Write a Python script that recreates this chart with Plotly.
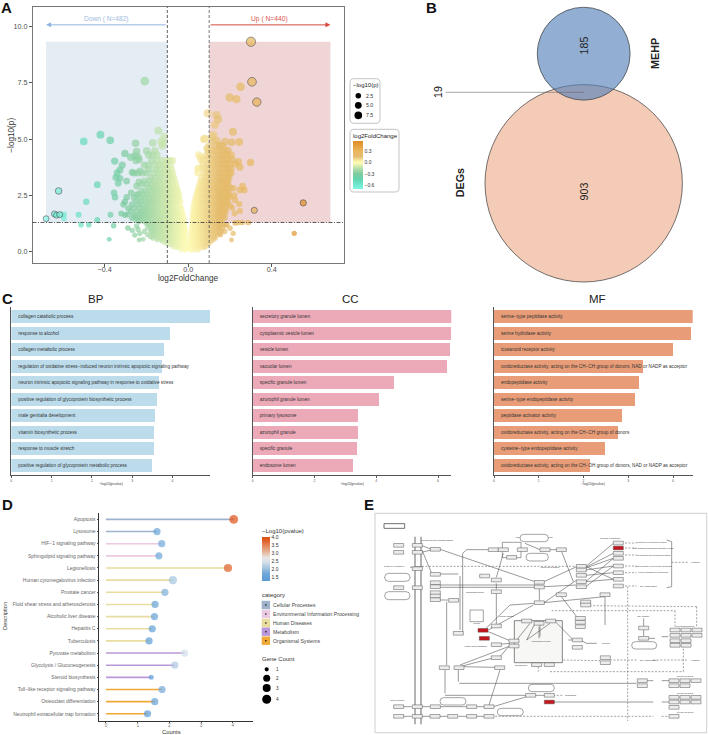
import plotly.graph_objects as go
import math

W, H = 708, 735
FONT = "Liberation Sans, Arial, sans-serif"

# ---------- A: volcano ----------
# bulk rows: (-log10 p, [log2FC, ...])
vol_down_rows = [
 (0.05,[-.035,-.02,-.01]),
 (0.15,[-.06,-.045,-.03,-.015,-.004]),
 (0.22,[-.075,-.05,-.035,-.02,-.006]),
 (0.3,[-.09,-.07,-.055,-.04,-.025,-.008]),
 (0.37,[-.11,-.08,-.06,-.045,-.03,-.015]),
 (0.45,[-.125,-.10,-.085,-.07,-.055,-.04,-.025,-.01]),
 (0.52,[-.15,-.13,-.11,-.09,-.075,-.06,-.045,-.03,-.015]),
 (0.6,[-.17,-.14,-.12,-.10,-.085,-.065,-.05,-.035,-.02,-.01]),
 (0.67,[-.18,-.155,-.13,-.11,-.095,-.075,-.06,-.045,-.03,-.018]),
 (0.75,[-.195,-.165,-.145,-.125,-.105,-.09,-.07,-.055,-.04,-.025,-.012]),
 (0.82,[-.17,-.15,-.13,-.115,-.095,-.08,-.06,-.045,-.03,-.016]),
 (0.9,[-.21,-.18,-.16,-.14,-.12,-.10,-.085,-.065,-.05,-.035,-.02,-.012]),
 (0.97,[-.175,-.155,-.135,-.115,-.095,-.08,-.06,-.045,-.03,-.016]),
 (1.05,[-.195,-.17,-.15,-.13,-.11,-.09,-.075,-.06,-.045,-.03,-.016]),
 (1.12,[-.18,-.16,-.14,-.12,-.1,-.085,-.065,-.05,-.035,-.02]),
 (1.2,[-.19,-.165,-.145,-.125,-.105,-.09,-.07,-.055,-.04,-.025,-.018]),
 (1.27,[-.2,-.175,-.155,-.135,-.115,-.095,-.08,-.06,-.045,-.03,-.02]),
 (1.35,[-.235,-.21,-.185,-.165,-.145,-.125,-.105,-.085,-.07,-.05,-.035,-.02]),
 (1.42,[-.25,-.225,-.2,-.175,-.155,-.135,-.115,-.095,-.08,-.06,-.045,-.028]),
 (1.5,[-.27,-.245,-.22,-.2,-.18,-.16,-.14,-.12,-.10,-.085,-.065,-.05,-.035,-.022]),
 (1.57,[-.235,-.21,-.19,-.17,-.15,-.13,-.11,-.095,-.075,-.06,-.045,-.03]),
 (1.65,[-.29,-.26,-.235,-.21,-.19,-.17,-.15,-.13,-.11,-.09,-.07,-.055,-.04,-.026]),
 (1.72,[-.225,-.2,-.18,-.16,-.14,-.12,-.10,-.085,-.065,-.05,-.035]),
 (1.8,[-.275,-.245,-.22,-.2,-.18,-.16,-.14,-.12,-.10,-.08,-.065,-.05,-.03]),
 (1.87,[-.21,-.19,-.17,-.15,-.13,-.11,-.095,-.075,-.06,-.04]),
 (1.95,[-.26,-.235,-.21,-.19,-.17,-.15,-.13,-.11,-.09,-.075,-.055,-.035]),
 (2.1,[-.31,-.27,-.24,-.22,-.2,-.18,-.16,-.14,-.12,-.10,-.085,-.065,-.04]),
 (2.17,[-.19,-.17,-.15,-.13,-.11,-.095,-.075,-.055]),
 (2.25,[-.25,-.225,-.205,-.185,-.165,-.145,-.125,-.105,-.09,-.07,-.05,-.038]),
 (2.4,[-.26,-.23,-.21,-.19,-.17,-.15,-.13,-.11,-.09,-.07,-.05]),
 (2.47,[-.18,-.16,-.14,-.12,-.10,-.08,-.06,-.045]),
 (2.55,[-.24,-.215,-.195,-.17,-.15,-.13,-.11,-.095,-.075,-.055,-.045]),
 (2.7,[-.225,-.205,-.18,-.16,-.14,-.12,-.10,-.08,-.06,-.05]),
 (2.77,[-.17,-.15,-.13,-.11,-.09,-.07,-.055]),
 (2.85,[-.19,-.17,-.15,-.13,-.11,-.09,-.07,-.055]),
 (3.0,[-.22,-.2,-.175,-.155,-.135,-.115,-.095,-.075,-.06]),
 (3.15,[-.21,-.185,-.16,-.14,-.12,-.10,-.08,-.065]),
 (3.3,[-.18,-.155,-.135,-.115,-.095,-.08,-.07]),
 (3.5,[-.26,-.24,-.22,-.2,-.165,-.14,-.125,-.105,-.09,-.075]),
 (3.65,[-.19,-.155,-.135,-.115,-.1,-.08]),
 (3.85,[-.21,-.19,-.16,-.14,-.12,-.105,-.085]),
 (4.05,[-.175,-.15,-.125,-.105,-.09,-.075]),
 (4.3,[-.19,-.17,-.15]),
]
vol_up_rows = [
 (0.05,[.01,.02,.035,.05]),
 (0.15,[.004,.015,.03,.045,.06,.075]),
 (0.22,[.01,.025,.04,.055,.07,.085]),
 (0.3,[.006,.02,.035,.05,.065,.08,.09]),
 (0.37,[.012,.028,.043,.058,.072,.088,.1]),
 (0.45,[.008,.02,.035,.05,.065,.08,.095,.11]),
 (0.52,[.014,.028,.043,.058,.073,.088,.103,.12]),
 (0.6,[.01,.025,.04,.055,.07,.085,.10,.115,.13]),
 (0.67,[.018,.033,.048,.063,.078,.093,.108,.125]),
 (0.75,[.012,.027,.042,.057,.072,.087,.10,.12,.14,.155]),
 (0.82,[.02,.035,.05,.065,.08,.095,.11,.13,.15]),
 (0.9,[.014,.03,.045,.06,.075,.09,.105,.12,.135,.16,.175]),
 (0.97,[.022,.038,.053,.068,.083,.098,.113,.128,.15]),
 (1.05,[.016,.03,.045,.06,.075,.09,.105,.125,.145,.165]),
 (1.12,[.024,.038,.053,.068,.083,.098,.115,.135,.155]),
 (1.2,[.018,.033,.048,.063,.08,.095,.11,.13,.15,.17,.18]),
 (1.27,[.026,.04,.056,.072,.088,.103,.12,.14,.16]),
 (1.35,[.02,.035,.05,.065,.08,.1,.115,.13,.145,.16]),
 (1.42,[.028,.043,.058,.074,.09,.108,.123,.138,.153]),
 (1.5,[.02,.036,.052,.068,.085,.1,.115,.13,.145,.16,.175]),
 (1.57,[.03,.045,.06,.076,.093,.108,.123,.138,.153,.168]),
 (1.65,[.022,.038,.054,.07,.085,.1,.115,.13,.145,.16,.175]),
 (1.72,[.032,.047,.062,.078,.093,.108,.123,.138,.153,.168]),
 (1.8,[.024,.04,.056,.072,.09,.105,.12,.135,.15,.165,.18]),
 (1.87,[.034,.049,.065,.082,.098,.113,.128,.143,.158,.173]),
 (1.95,[.025,.042,.058,.075,.09,.105,.12,.135,.15,.165,.18]),
 (2.1,[.028,.045,.06,.075,.09,.11,.125,.14,.155,.17,.185]),
 (2.17,[.04,.053,.068,.083,.1,.118,.133,.148,.163,.178]),
 (2.25,[.032,.048,.064,.08,.095,.11,.125,.14,.155,.17,.19]),
 (2.4,[.036,.05,.066,.082,.1,.115,.13,.145,.16,.175,.19]),
 (2.47,[.045,.06,.075,.09,.108,.123,.138,.153,.168,.183]),
 (2.55,[.04,.055,.07,.085,.1,.115,.13,.145,.16,.175,.195]),
 (2.7,[.045,.06,.075,.09,.105,.12,.135,.15,.165,.18,.19]),
 (2.77,[.052,.068,.083,.098,.113,.128,.143,.158,.173]),
 (2.85,[.05,.065,.08,.095,.11,.125,.14,.155,.17,.185,.2]),
 (3.0,[.055,.07,.085,.1,.115,.13,.145,.16,.175,.19]),
 (3.15,[.06,.075,.09,.105,.12,.135,.15,.165,.18,.19]),
 (3.3,[.065,.08,.095,.11,.125,.14,.155,.17,.185,.195]),
 (3.5,[.045,.075,.09,.105,.12,.135,.15,.165,.18,.195,.205]),
 (3.7,[.048,.085,.1,.115,.13,.145,.16,.175,.19,.205]),
 (3.9,[.07,.095,.11,.125,.14,.155,.17,.185,.2,.225]),
 (4.1,[.06,.075,.1,.115,.13,.145,.16,.175,.19,.21]),
 (4.3,[.05,.09,.105,.12,.14,.155,.17,.185,.205]),
 (4.5,[.095,.11,.125,.14,.16,.175,.19]),
 (4.7,[.10,.13,.15,.165]),
]
vol_sparse_x = [-.143,-.12,-.17,-.252,-.303,-.199,-.16,-.247,-.255,-.24,-.275,-.25,-.235,-.352,-.316,-.327,-.34,-.346,
 -.327,-.335,-.295,-.268,-.231,-.236,-.247,-.435,-.355,-.35,-.488,-.294,-.303,-.273,-.247,-.287,-.32,-.303,-.256,-.524,
 -.372,-.435,-.595,-.595,-.513,-.476,-.357,-.289,-.268,-.247,-.24,-.256,-.232,-.235,-.216,-.378,-.208,-.42,-.50,-.373,
 -.115,-.13,-.125,
 .093,.135,.143,.128,.214,.12,.08,.176,.208,.244,.15,.12,.064,.24,.247,.298,.048,.07,.215,.26,.247,.268,.22,.224,.2,
 .244,.247,.222,.21,.2,.224,.24,.258,.287,.207,.507,.215,.2,.185,.25,.198,.23,.075,.09,.115,.135]
vol_sparse_y = [5.38,4.82,4.84,4.82,4.37,4.49,4.49,4.45,4.25,4.2,4.2,4.05,4.1,4.03,3.85,3.63,3.51,3.3,
 3.26,3.04,3.14,3.53,3.59,3.1,2.92,2.98,2.62,2.42,2.22,2.42,2.22,2.62,2.52,1.93,1.7,1.63,1.56,1.64,
 1.64,1.41,1.67,1.49,1.2,1.2,1.15,1.06,.95,1.14,.99,.74,.81,.52,.55,.55,7.58,5.2,4.9,4.95,
 5.1,4.9,4.7,
 6.15,6.07,5.88,5.63,5.33,5.2,5.03,4.89,4.86,4.88,4.74,4.89,4.2,4.0,3.75,3.97,3.7,3.75,2.82,2.92,2.74,2.74,2.5,2.3,2.45,
 2.12,1.81,1.7,1.95,2.05,1.28,1.3,1.3,1.3,.52,.82,.82,1.04,1.2,7.33,6.85,6.78,5.0,4.6,5.1,4.95]
vol_ring_x = [.30,.305,.328,-.62,.316,.55,-.68,-.64,-.63,-.615]
vol_ring_y = [9.33,7.55,6.65,2.7,1.84,2.17,1.47,1.68,1.62,1.65]
fc_ticks = [-.6,-.3,0,.3]
p_legend = [2.5,5.0,7.5]

# ---------- B: Venn counts ----------
venn_only_mehp, venn_shared, venn_only_degs = 185, 19, 903

# ---------- C: GO bars ----------
bp_terms = ["collagen catabolic process","response to alcohol","collagen metabolic process",
 "regulation of oxidative stress−induced neuron intrinsic apoptotic signaling pathway",
 "neuron intrinsic apoptotic signaling pathway in response to oxidative stress",
 "positive regulation of glycoprotein biosynthetic process","male genitalia development",
 "vitamin biosynthetic process","response to muscle stretch","positive regulation of glycoprotein metabolic process"]
bp_vals = [4.93,3.94,3.79,3.74,3.66,3.61,3.58,3.55,3.54,3.51]
cc_terms = ["secretory granule lumen","cytoplasmic vesicle lumen","vesicle lumen","vacuolar lumen",
 "specific granule lumen","azurophil granule lumen","primary lysosome","azurophil granule",
 "specific granule","endosome lumen"]
cc_vals = [6.43,6.40,6.39,6.28,4.57,4.09,3.40,3.40,3.36,3.23]
mf_terms = ["serine−type peptidase activity","serine hydrolase activity","icosanoid receptor activity",
 "oxidoreductase activity, acting on the CH−CH group of donors, NAD or NADP as acceptor",
 "endopeptidase activity","serine−type endopeptidase activity","peptidase activator activity",
 "oxidoreductase activity, acting on the CH−CH group of donors","cysteine−type endopeptidase activity",
 "oxidoreductase activity, acting on the CH−OH group of donors, NAD or NADP as acceptor"]
mf_vals = [4.44,4.40,3.99,3.32,3.25,3.16,2.85,2.77,2.48,2.14]

# ---------- D: lollipop ----------
d_terms = ["Apoptosis","Lysosome","HIF−1 signaling pathway","Sphingolipid signaling pathway","Legionellosis",
 "Human cytomegalovirus infection","Prostate cancer","Fluid shear stress and atherosclerosis",
 "Alcoholic liver disease","Hepatitis C","Tuberculosis","Pyruvate metabolism","Glycolysis / Gluconeogenesis",
 "Steroid biosynthesis","Toll−like receptor signaling pathway","Osteoclast differentiation",
 "Neutrophil extracellular trap formation"]
d_vals = [4.03,1.61,1.76,1.67,3.85,2.11,1.86,1.55,1.53,1.46,1.36,2.48,2.17,1.43,1.77,1.54,1.31]
d_counts = [4,2,2,2,3,3,2,2,2,2,2,2,2,1,2,2,2]
d_cats = ["Cellular Processes"]*2+["Environmental Information Processing"]*2+["Human Diseases"]*7+["Metabolism"]*3+["Organismal Systems"]*3
cat_names = ["Cellular Processes","Environmental Information Processing","Human Diseases","Metabolism","Organismal Systems"]
cat_colors = ["#9fb2cc","#eccae2","#e8dd9f","#b999da","#f0a836"]
gene_levels = [1,2,3,4]

# ---------- E: KEGG apoptosis map (map coordinates) ----------
kegg_nodes = [("TRAIL",116,166,0),("FasL",116,187,0),("TNFα",116,293,0),("TRAIL-R",172,166,0),("Fas",172,187,0),
 ("DcR",172,236,0),("TNF-R1",172,293,0),("FADD",226,178,0),("DAXX",226,253,0),("TRADD",226,278,0),("RIP1",226,290,0),
 ("TRAF2",226,308,0),("cIAP",226,318,0),("NIK",226,329,0),("IKK",281,331,0),("IκB",295,430,0),("IκB",253,533,0),("NFκB",297,533,0),
 ("PERK",400,179,0),("IRE1",430,179,0),("ATF6",487,179,0),("Calpain",555,179,0),("CASP12",604,179,0),("IP3R",455,202,0),
 ("Bid",374,258,0),("CASP10",409,270,0),("CASP8",409,305,0),("CASP8",538,277,0),("CASP10",538,291,0),
 ("CASP3",664,229,0),("CASP6",664,240,0),("CASP7",664,256,0),("CASP9",664,275,0),("CASP2",664,290,0),("tBid",538,338,0),
 ("GZMB",604,314,0),("CASP3",735,314,0),("XIAP",677,336,0),("BIRC",677,345,0),("AIF",661,385,0),("EndoG",661,397,0),("HtrA2",661,410,0),
 ("ACTB",775,159,0),("PARP",775,174,2),("LMNA",775,190,0),("Lamin",775,205,0),("Gas2",775,228,0),("Tubulin",775,248,0),
 ("TUBA",775,268,0),("CAD",775,288,0),("Bcl-2",369,421,2),("Bcl-XL",373,445,2),("Akt",409,408,0),("PUMA",409,464,0),("Bad",409,503,0),("Bim",419,533,0),
 ("Bax",462,453,0),("Bak",462,468,0),("Cyt c",500,393,0),("Smac",572,393,0),("APAF1",537,400,0),("DIABLO",530,524,0),("VDAC",568,524,0),
 ("Casp9",652,450,0),("Apaf",652,472,0),("DFF45",736,503,0),("DFF40",736,518,0),("ATM",851,414,0),("p53",851,445,0),
 ("Bax",945,420,0),("Puma",978,420,0),("Noxa",1011,420,0),("Fas",945,436,0),("Apaf1",978,436,0),("CASP3",1011,436,0),
 ("Bid",945,452,0),("PIDD",978,452,0),("Gadd45",945,466,0),("TP53I3",978,466,0),("p65",847,572,0),("p50",847,587,0),
 ("BCL2",942,572,0),("XIAP",975,572,0),("FLIP",1008,572,0),("TRAF",942,587,0),("IAP",975,587,0),("ERK",512,616,0),("MEK",568,616,0),("Elk1",568,636,2),
 ("BCL2",942,622,0),("BclXL",975,622,0),("MCL1",1008,622,0),("FOS",942,636,0),("JUN",975,636,0),("MYC",1008,636,0),("CCND",942,652,0),("BCL2",942,679,0),
 ("AKT",387,650,0),("NFκB",387,679,0),("RAF",335,679,0),("Ras",278,679,0),("Grb2",225,679,0),("TrkA",172,679,0),("IL-3",116,679,0),
 ("NGF",116,650,0),("TrkA",172,650,0),("PI3K",226,650,0),("PIP3",335,650,0)]
kegg_edges = [(183,166,215,178),(183,187,215,180),(186,180,215,250),(240,178,525,275),(385,179,320,179),(320,179,308,190),(308,190,308,430),
 (238,252,295,252),(300,258,300,420),(240,330,265,330),(260,335,260,525),(255,540,255,610),(255,616,500,616),(295,540,295,575),(298,580,830,580),
 (240,285,525,285),(240,292,525,292),(552,275,650,230),(552,290,650,285),(409,280,409,298),(409,312,409,402),(538,297,538,332),(450,345,525,340),
 (378,415,450,345),(385,420,520,345),(552,338,650,270),(605,185,640,275),(677,230,760,160),(677,232,760,190),(677,234,760,205),(677,240,760,228),
 (677,256,760,248),(677,275,760,205),(677,290,760,228),(677,275,760,268),(677,229,760,268),(735,320,735,405),(604,320,650,380),(735,320,552,338),
 (452,453,385,425),(395,465,450,460),(420,500,450,465),(300,525,450,468),(300,530,395,505),(300,530,405,532),(387,645,420,540),(400,650,500,620),
 (525,616,555,616),(580,636,880,636),(905,636,930,636),(130,650,155,650),(130,679,155,679),(186,650,210,650),(186,679,210,679),(240,650,320,650),
 (240,679,262,679),(295,679,320,679),(345,679,372,679),(350,650,372,650),(860,572,880,572),(905,572,930,572),(851,385,851,408),(851,420,851,438),
 (865,445,885,445),(905,440,925,440),(660,450,680,460),(680,460,710,460),(495,160,540,179),(570,179,590,179),(430,190,409,262),(510,400,470,450),
 (537,410,537,445),(570,400,500,450),(540,400,540,440),(586,395,640,450),(625,450,640,450),(500,450,525,400),(920,150,935,155),(935,155,935,290),(935,290,920,293),(150,232,186,229)]
kegg_dashed = [(186,229,655,229),(795,159,830,159),(795,174,830,174),(795,195,830,195),(795,228,830,228),(795,248,830,248),(795,288,830,288),
 (935,217,985,217),(575,362,945,362),(945,362,945,410),(1010,350,690,347),(1010,350,1010,410),(570,545,970,545),(970,545,970,475),(535,530,535,545),
 (610,510,720,512),(750,510,830,510),(880,510,985,510),(395,679,880,679),(905,679,930,679),(580,616,610,616),(803,290,803,693)]
kegg_ovals = [(480,133,565,155,"Protein processing in endoplasmic reticulum"),(498,190,565,213,"Calcium signaling pathway"),
 (74,250,150,274,"Neurotrophin signaling pathway"),(74,305,150,329,"NFκB signaling pathway"),(240,623,318,645,"PI3K-Akt signaling pathway"),
 (412,655,490,677,"Ras signaling pathway"),(505,583,583,605,"MAPK signaling pathway"),(815,455,890,477,"p53 signaling pathway")]
kegg_labels = [(875,156,"Disruption of microtubule function"),(880,175,"Bax-mediated mitochondrial apoptotic events"),(880,197,"Cell shrinking and membrane blebbing"),
 (880,228,"Loss of integrity of the nuclear membrane"),(880,248,"Loss of regulation of cytoskeleton"),(865,288,"DNA fragmentation"),(750,145,"Cleavage of substrates"),
 (1005,218,"Apoptosis"),(1005,510,"Apoptosis"),(632,617,"Degradation"),(736,461,"Apoptosis"),(865,510,"DNA fragmentation"),(570,233,"Granzyme B pathway"),
 (232,152,"Extrinsic/receptor mediated pathway"),(440,378,"Intrinsic pathway"),(345,308,"Endoplasmic stress"),(112,632,"Survival factors"),
 (975,408,"Pro-apoptotic genes"),(975,560,"Pro-survival genes"),(975,610,"Pro-survival genes"),(975,668,"Pro-survival genes"),(850,380,"DNA damage"),
 (483,525,"Mitochondrion"),(102,230,"Cytotoxic T lymphocyte"),(350,400,"Cytosol"),(347,470,"Trophic factor withdrawal"),(543,455,"Mitochondrial release")]

# ---------- layout helpers ----------
def dx(a, b): return [a / W, b / W]
def dy(top, bot): return [1 - bot / H, 1 - top / H]
px_x = lambda v: v / W
px_y = lambda v: 1 - v / H
shapes, annos = [], []

def text(x, y, s, size, color="#222", anchor="left", angle=0, bold=False, xref="paper", yref="paper"):
    annos.append(dict(x=px_x(x) if xref == "paper" else x, y=px_y(y) if yref == "paper" else y, xref=xref, yref=yref,
        text=f"<b>{s}</b>" if bold else s, showarrow=False, xanchor=anchor, yanchor="middle", textangle=angle,
        font=dict(size=size, color=color, family=FONT), borderpad=0, borderwidth=0))

def round_box(x0, y0, x1, y1, r=4, color="#c4c4c4"):
    p = lambda a, b: f"{px_x(a):.5f},{px_y(b):.5f}"
    path = (f"M{p(x0+r,y0)} L{p(x1-r,y0)} Q{p(x1,y0)} {p(x1,y0+r)} L{p(x1,y1-r)} Q{p(x1,y1)} {p(x1-r,y1)} "
            f"L{p(x0+r,y1)} Q{p(x0,y1)} {p(x0,y1-r)} L{p(x0,y0+r)} Q{p(x0,y0)} {p(x0+r,y0)} Z")
    shapes.append(dict(type="path", path=path, xref="paper", yref="paper", line=dict(color=color, width=1), fillcolor="white"))

def dot(x, y, d, color="black"):
    shapes.append(dict(type="circle", xref="paper", yref="paper", x0=px_x(x-d/2), x1=px_x(x+d/2), y0=px_y(y+d/2), y1=px_y(y-d/2),
                       fillcolor=color, line=dict(width=0)))

def p_size(y): return 3.6 + 1.85 * math.sqrt(y)

fig = go.Figure()

# ---------- A ----------
FC_SCALE_MIN, FC_SCALE_MAX = -0.69, 0.56
def fcn(v): return (v - FC_SCALE_MIN) / (FC_SCALE_MAX - FC_SCALE_MIN)
fc_scale = [[0, "#80f7e6"], [fcn(-.6), "#72ecd4"], [fcn(-.45), "#62d6b2"], [fcn(-.3), "#7ccb9f"], [fcn(-.2), "#a3d8a8"],
            [fcn(-.1), "#d2e9ac"], [fcn(-.03), "#f8f8b4"], [fcn(0), "#fdfbb6"], [fcn(.05), "#f8eca2"], [fcn(.1), "#eed48d"],
            [fcn(.15), "#e5bd70"], [fcn(.3), "#e8b75c"], [1, "#e08a22"]]
vx, vy = [], []
for rows in (vol_down_rows, vol_up_rows):
    for y, xs in rows:
        vx += xs
        vy += [y] * len(xs)
vx += vol_sparse_x
vy += vol_sparse_y
order = sorted(range(len(vx)), key=lambda i: abs(vx[i]))
vx = [vx[i] for i in order]
vy = [vy[i] for i in order]
fig.add_trace(go.Scatter(x=vx, y=vy, mode="markers", xaxis="x", yaxis="y", hoverinfo="skip", showlegend=False,
    marker=dict(size=[p_size(v) for v in vy], color=vx, cmin=FC_SCALE_MIN, cmax=FC_SCALE_MAX, colorscale=fc_scale, line=dict(width=0),
        showscale=True, colorbar=dict(x=px_x(353), xanchor="left", y=px_y(141), yanchor="top", thickness=10, lenmode="pixels", len=48,
            xpad=0, ypad=0, outlinewidth=0, borderwidth=0, tickvals=fc_ticks, ticktext=["−0.6","−0.3","0.0","0.3"], ticks="",
            tickfont=dict(size=5, color="#333", family=FONT)))))
fig.add_trace(go.Scatter(x=vol_ring_x, y=vol_ring_y, mode="markers", xaxis="x", yaxis="y", hoverinfo="skip", showlegend=False,
    marker=dict(size=[p_size(v) for v in vol_ring_y], color=vol_ring_x, cmin=FC_SCALE_MIN, cmax=FC_SCALE_MAX, colorscale=fc_scale,
                line=dict(width=.7, color="#2e2e2e"), showscale=False)))
UP_LIM = 0.68; TOP = 9.33; THR = 1.3
shapes += [
 dict(type="rect", xref="x", yref="y", x0=-UP_LIM, x1=-.1, y0=THR, y1=TOP, fillcolor="#e4ecf4", line=dict(width=0), layer="below"),
 dict(type="rect", xref="x", yref="y", x0=.1, x1=UP_LIM, y0=THR, y1=TOP, fillcolor="#efd5d5", line=dict(width=0), layer="below"),
 dict(type="line", xref="x", yref="paper", x0=-.1, x1=-.1, y0=px_y(263), y1=px_y(7), line=dict(color="#333", width=.8, dash="3px,2px")),
 dict(type="line", xref="x", yref="paper", x0=.1, x1=.1, y0=px_y(263), y1=px_y(7), line=dict(color="#555", width=.8, dash="3px,2px")),
 dict(type="line", xref="paper", yref="y", x0=px_x(32.5), x1=px_x(344), y0=THR, y1=THR, line=dict(color="#333", width=.8, dash="4px,1.5px,1px,1.5px")),
]
for a, c in ((-UP_LIM, "#8fb5e0"), (UP_LIM, "#d8493f")):
    annos.append(dict(x=a, y=10.08, ax=(-.1 if a < 0 else .1), ay=10.08, xref="x", yref="y", axref="x", ayref="y", text="", showarrow=True,
                      arrowhead=2, arrowsize=1, arrowwidth=1, arrowcolor=c))
text(106.7, 19.5, "Down ( N=482)", 6.6, "#9dbbdd", "center")
text(269.3, 19.5, "Up ( N=440)", 6.7, "#d9534f", "center")
text(188, 278, "log2FoldChange", 8.2, "#333", "center")
text(10.7, 135, "−log10(p)", 8.2, "#333", "center", -90)
round_box(350, 78.7, 380, 123.3)
round_box(350, 129.3, 399, 192)
text(353, 85.3, "−log10(p)", 6, "#222")
text(352.7, 135.5, "log2FoldChange", 6, "#222")
for v, y, lab in zip(p_legend, (95.7, 105.3, 115.3), ("2.5", "5.0", "7.5")):
    dot(358.3, y, p_size(v) - 1)
    text(366, y, lab, 5.2, "#333")

# ---------- B ----------
VENN_K = 98.7 / math.sqrt(venn_only_degs + venn_shared)
r_mehp = VENN_K * math.sqrt(venn_only_mehp + venn_shared)
r_degs = VENN_K * math.sqrt(venn_only_degs + venn_shared)
CX, CY_D, CY_M = 583.7, 183.3, 53.7
shapes += [
 dict(type="circle", xref="x2", yref="y2", x0=CX-r_degs, x1=CX+r_degs, y0=CY_D-r_degs, y1=CY_D+r_degs, fillcolor="#f3cbb7", line=dict(color="#3a3a3a", width=.7)),
 dict(type="circle", xref="x2", yref="y2", x0=CX-r_mehp, x1=CX+r_mehp, y0=CY_M-r_mehp, y1=CY_M+r_mehp, fillcolor="rgba(85,130,186,.64)", line=dict(color="#3a3a3a", width=.7)),
 dict(type="line", xref="x2", yref="y2", x0=445.7, x1=CX, y0=92.3, y1=92.3, line=dict(color="#666", width=.6)),
]
text(CX, 45.7, str(venn_only_mehp), 10.6, "#222", "center", -90)
text(CX, 191.7, str(venn_only_degs), 10.6, "#222", "center", -90)
text(438.7, 92.3, str(venn_shared), 10.6, "#222", "center", -90)
text(655, 54, "MEHP", 10.8, "#222", "center", -90, True)
text(460, 183.3, "DEGs", 10.8, "#222", "center", -90, True)

# ---------- C ----------
panels = [("x3", "y3", bp_terms, bp_vals, "#bcdcec", 11.3, 210, 4.93, range(0, 5), 96, "BP"),
          ("x4", "y4", cc_terms, cc_vals, "#eca9b8", 252.7, 451.3, 6.43, range(0, 7, 2), 350, "CC"),
          ("x5", "y5", mf_terms, mf_vals, "#e89d78", 494, 692.7, 4.44, range(0, 5), 597, "MF")]
for xa, ya, terms, vals, col, left, right, xmax, ticks, cx, ttl in panels:
    ypos = list(range(len(vals)))
    fig.add_trace(go.Bar(x=vals, y=ypos, orientation="h", xaxis=xa, yaxis=ya, marker=dict(color=col, line=dict(width=0)),
                         width=.8, hoverinfo="skip", showlegend=False))
    offset = 7 * xmax / (right - left)
    fig.add_trace(go.Scatter(x=[offset] * len(vals), y=ypos, text=terms, mode="text", textposition="middle right", xaxis=xa, yaxis=ya,
                             cliponaxis=False, hoverinfo="skip", showlegend=False, textfont=dict(size=4.7, color="#333", family=FONT)))
    text(cx, 299, ttl, 11.5, "#222", "center")
    text((left + right) / 2, 484, "−log10(pvalue)", 3.6, "#444", "center")

# ---------- D ----------
DMIN, DMAX = 1.31, 4.03
def dn(v): return (v - DMIN) / (DMAX - DMIN)
d_scale = [[0, "#5a9bd6"], [dn(1.8), "#74aada"], [dn(2.1), "#a4c4e0"], [dn(2.5), "#d6e1ea"], [dn(2.75), "#e8e5e3"], [dn(3.2), "#e6a988"], [dn(3.8), "#e0602a"], [1, "#df5015"]]
gene_px = {1: 5.0, 2: 7.2, 3: 8.2, 4: 8.8}
d_y = list(range(len(d_terms)))[::-1]
for name, c in zip(cat_names, cat_colors):
    xs, ys = [], []
    for t, v, y, k in zip(d_terms, d_vals, d_y, d_cats):
        if k == name:
            xs += [0, v, None]
            ys += [y, y, None]
    fig.add_trace(go.Scatter(x=xs, y=ys, mode="lines", xaxis="x6", yaxis="y6", line=dict(color=c, width=1.6), hoverinfo="skip", showlegend=False))
fig.add_trace(go.Scatter(x=d_vals, y=d_y, mode="markers", xaxis="x6", yaxis="y6", hoverinfo="skip", showlegend=False,
    marker=dict(size=[gene_px[c] for c in d_counts], color=d_vals, cmin=DMIN, cmax=DMAX, colorscale=d_scale, line=dict(width=0), showscale=True,
        colorbar=dict(x=px_x(261.7), xanchor="left", y=px_y(536.7), yanchor="top", thickness=8.3, lenmode="pixels", len=44, xpad=0, ypad=0,
            outlinewidth=0, borderwidth=0, ticks="", tickvals=[1.5,2,2.5,3,3.5,4], ticktext=["1.5","2.0","2.5","3.0","3.5","4.0"],
            tickfont=dict(size=5, color="#333", family=FONT)))))
text(171.7, 732, "Counts", 5.9, "#333", "center")
text(4.9, 616, "Description", 5.6, "#333", "center", -90)
text(261.7, 530.7, "−Log10(pvalue)", 6, "#333")
text(261.7, 595.3, "category", 6, "#333")
text(261.7, 659.3, "Gene Count", 6, "#333")
for n, c, y in zip(cat_names, cat_colors, (605, 614, 623, 631.7, 640.7)):
    shapes.append(dict(type="rect", xref="paper", yref="paper", x0=px_x(261.7), x1=px_x(270), y0=px_y(y+4.2), y1=px_y(y-4.2), fillcolor=c, line=dict(width=0)))
    dot(265.9, y, 1.5)
    text(273, y, n, 5.1, "#444")
for g, y in zip(gene_levels, (669.3, 678.3, 688, 699.3)):
    dot(266.7, y, {1: 4.2, 2: 7, 3: 8, 4: 9}[g])
    text(276.3, y, str(g), 4.6, "#333")

# ---------- E ----------
shapes.append(dict(type="rect", xref="x7", yref="y7", x0=45, x1=1040, y0=70, y1=728, fillcolor="white", line=dict(color="#d8d8d8", width=1.2), layer="below"))
for xv in (165, 183):
    shapes.append(dict(type="line", xref="x7", yref="y7", x0=xv, x1=xv, y0=140, y1=703, line=dict(color="#808080", width=1.2)))
shapes.append(dict(type="rect", xref="x7", yref="y7", x0=463, x1=607, y0=392, y1=518, fillcolor="#f7f7f5", line=dict(color="#666", width=.8), layer="below"))
shapes.append(dict(type="rect", xref="x7", yref="y7", x0=427, x1=483, y0=157, y1=203, fillcolor="white", line=dict(color="#777", width=.7), layer="below"))
shapes.append(dict(type="rect", xref="x7", yref="y7", x0=330, x1=370, y0=360, y1=395, fillcolor="white", line=dict(color="#666", width=.6), layer="below"))
shapes.append(dict(type="rect", xref="x7", yref="y7", x0=72, x1=134, y0=101, y1=115, fillcolor="white", line=dict(color="#333", width=.7)))
ex, ey = [], []
for a, b, c, d in kegg_edges:
    ex += [a, c, None]; ey += [b, d, None]
fig.add_trace(go.Scatter(x=ex, y=ey, mode="lines", xaxis="x7", yaxis="y7", line=dict(color="#555", width=.6), hoverinfo="skip", showlegend=False))
ex, ey = [], []
for a, b, c, d in kegg_dashed:
    ex += [a, c, None]; ey += [b, d, None]
fig.add_trace(go.Scatter(x=ex, y=ey, mode="lines", xaxis="x7", yaxis="y7", line=dict(color="#666", width=.6, dash="2px,1.5px"), hoverinfo="skip", showlegend=False))
for name, x, y, flag in kegg_nodes:
    shapes.append(dict(type="rect", xref="x7", yref="y7", x0=x-15, x1=x+15, y0=y-5.5, y1=y+5.5,
                       fillcolor="#c8141a" if flag == 2 else "#ececec", line=dict(color="#555", width=.5)))
for a, b, c, d, s in kegg_ovals:
    r = (d - b) / 2
    path = (f"M{a+r},{b} L{c-r},{b} Q{c},{b} {c},{b+r} Q{c},{d} {c-r},{d} L{a+r},{d} Q{a},{d} {a},{b+r} Q{a},{b} {a+r},{b} Z")
    shapes.append(dict(type="path", path=path, xref="x7", yref="y7", line=dict(color="#666", width=.6), fillcolor="white"))
fig.add_trace(go.Scatter(x=[n[1] for n in kegg_nodes], y=[n[2] for n in kegg_nodes], text=[n[0] for n in kegg_nodes], mode="text", xaxis="x7", yaxis="y7",
    textposition="middle center", hoverinfo="skip", showlegend=False, textfont=dict(size=2.3, color="#222", family=FONT)))
fig.add_trace(go.Scatter(x=[(o[0]+o[2])/2 for o in kegg_ovals], y=[(o[1]+o[3])/2 for o in kegg_ovals], text=[o[4] for o in kegg_ovals], mode="text", xaxis="x7", yaxis="y7",
    textposition="middle center", hoverinfo="skip", showlegend=False, textfont=dict(size=1.9, color="#333", family=FONT)))
fig.add_trace(go.Scatter(x=[o[0] for o in kegg_labels], y=[o[1] for o in kegg_labels], text=[o[2] for o in kegg_labels], mode="text", xaxis="x7", yaxis="y7",
    textposition="middle center", hoverinfo="skip", showlegend=False, textfont=dict(size=2.0, color="#333", family=FONT)))
fig.add_trace(go.Scatter(x=[103], y=[108], text=["APOPTOSIS"], mode="text", xaxis="x7", yaxis="y7", textposition="middle center",
    hoverinfo="skip", showlegend=False, textfont=dict(size=2.4, color="#222", family=FONT)))

# ---------- panel letters ----------
for s, x, y in (("A", 1, 8), ("B", 425.5, 8), ("C", 1.5, 298), ("D", 2, 504), ("E", 364, 504)):
    text(x, y, s, 15, "#111", "left", 0, True)

hidden = dict(visible=False, showgrid=False, zeroline=False)
def c_x(left, right, xmax, ticks, anchor):
    return dict(domain=dx(left, right), range=[0, xmax], anchor=anchor, showgrid=False, zeroline=False, showline=True, linecolor="#555", linewidth=.8,
                ticks="outside", ticklen=1.5, tickwidth=.5, tickcolor="#555", tickvals=list(ticks), tickfont=dict(size=3.4, color="#555", family=FONT))
def c_y(anchor):
    return dict(domain=dy(307.3, 475.3), range=[9.58, -.58], anchor=anchor, showgrid=False, zeroline=False, showline=True, linecolor="#555", linewidth=.8,
                showticklabels=False, ticks="")
fig.update_layout(
    width=W, height=H, margin=dict(l=0, r=0, t=0, b=0), paper_bgcolor="white", plot_bgcolor="white", showlegend=False, bargap=0,
    font=dict(family=FONT), shapes=shapes, annotations=annos,
    xaxis=dict(domain=dx(32.5, 344), range=[-.745, .745], anchor="y", showgrid=False, zeroline=False, showline=True, mirror=True, linecolor="#777", linewidth=1,
               ticks="outside", ticklen=2.5, tickwidth=.7, tickcolor="#555", tickvals=[-.4, 0, .4], ticktext=["−0.4", "0.0", "0.4"], ticklabelstandoff=-3, tickfont=dict(size=7.2, color="#4d4d4d", family=FONT)),
    yaxis=dict(domain=dy(7.3, 263), range=[-.5, 10.86], anchor="x", showgrid=False, zeroline=False, showline=True, mirror=True, linecolor="#777", linewidth=1,
               ticks="outside", ticklen=2.5, tickwidth=.7, tickcolor="#555", tickvals=[0, 2.5, 5, 7.5, 10], ticktext=["0.0", "2.5", "5.0", "7.5", "10.0"], tickfont=dict(size=7.2, color="#4d4d4d", family=FONT)),
    xaxis2=dict(domain=dx(430, 708), range=[430, 708], anchor="y2", **hidden),
    yaxis2=dict(domain=dy(0, 290), range=[290, 0], anchor="x2", **hidden),
    xaxis3=c_x(11.3, 210, 4.93, range(0, 5), "y3"), yaxis3=c_y("x3"),
    xaxis4=c_x(252.7, 451.3, 6.43, range(0, 7, 2), "y4"), yaxis4=c_y("x4"),
    xaxis5=c_x(494, 692.7, 4.44, range(0, 5), "y5"), yaxis5=c_y("x5"),
    xaxis6=dict(domain=dx(99, 252.7), range=[-.22, 4.63], anchor="y6", showgrid=False, zeroline=False, showline=True, linecolor="#333", linewidth=.9,
                ticks="outside", ticklen=1.5, tickwidth=.5, tickcolor="#555", tickvals=[0, 1, 2, 3, 4], ticklabelstandoff=-2, tickfont=dict(size=4.6, color="#777", family=FONT)),
    yaxis6=dict(domain=dy(512.7, 720.7), range=[-.57, 16.55], anchor="x6", showgrid=False, zeroline=False, showline=True, linecolor="#333", linewidth=.9,
                ticks="outside", ticklen=1.5, tickwidth=.5, tickcolor="#555", tickvals=d_y, ticktext=d_terms, tickfont=dict(size=4.95, color="#666", family=FONT)),
    xaxis7=dict(domain=dx(360, 708), range=[0, 1044], anchor="y7", **hidden),
    yaxis7=dict(domain=dy(490, 735), range=[735, 0], anchor="x7", **hidden),
)
fig.write_html("out.html", config=dict(displayModeBar=False),
               post_script="document.body.style.margin='0';document.documentElement.style.overflow='hidden';")
